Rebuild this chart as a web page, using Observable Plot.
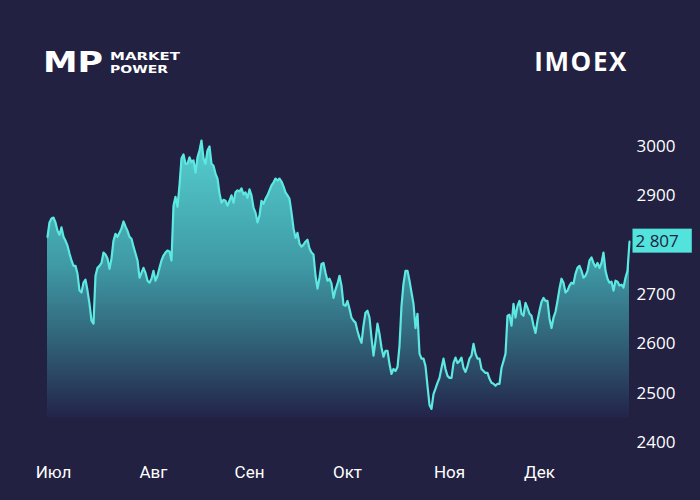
<!DOCTYPE html>
<html>
<head>
<meta charset="utf-8">
<script src="https://cdn.jsdelivr.net/npm/d3@7"></script>
<script src="https://cdn.jsdelivr.net/npm/@observablehq/plot@0.6"></script>
<style>
  html, body { margin: 0; padding: 0; background: #222142; }
  #wrap { position: relative; width: 700px; height: 500px; overflow: hidden; background: #222142; }
  #chart { position: absolute; left: 0; top: 0; }
  #brand { position: absolute; left: 0; top: 0; }
  .ticker { position: absolute; right: 72px; top: 43px; color: #fff; font: 700 26px "Open Sans", sans-serif; letter-spacing: 1.6px; }
</style>
</head>
<body>
<div id="wrap">
  <svg id="brand" width="200" height="100" xmlns="http://www.w3.org/2000/svg">
    <text x="43" y="72" fill="#fff" font-family="DejaVu Sans" font-weight="700" font-size="27.5"
          textLength="60" lengthAdjust="spacingAndGlyphs">MP</text>
    <text x="110" y="59.5" fill="#fff" font-family="DejaVu Sans" font-weight="700" font-size="11"
          textLength="70" lengthAdjust="spacingAndGlyphs">MARKET</text>
    <text x="110" y="73" fill="#fff" font-family="DejaVu Sans" font-weight="700" font-size="11"
          textLength="58" lengthAdjust="spacingAndGlyphs">POWER</text>
  </svg>
  <div class="ticker">IMOEX</div>
  <div id="chart"></div>
</div>
<script>
// IMOEX index, Jul–Dec: one value per sampling step
const values = [
  2817, 2846, 2854, 2856, 2846, 2829, 2821, 2836, 2817, 2809,
  2799, 2783, 2769, 2758, 2758, 2742, 2708, 2704, 2724, 2730,
  2708, 2681, 2647, 2641, 2738, 2754, 2758, 2764, 2785, 2781,
  2773, 2752, 2773, 2809, 2823, 2817, 2825, 2834, 2848, 2838,
  2829, 2817, 2813, 2797, 2783, 2769, 2734, 2744, 2754, 2744,
  2728, 2724, 2732, 2748, 2728, 2738, 2754, 2769, 2779, 2785,
  2789, 2787, 2769, 2880, 2898, 2878, 2921, 2976, 2984, 2965,
  2965, 2978, 2968, 2972, 2947, 2978, 2992, 3012, 2976, 2965,
  2992, 3000, 2965, 2961, 2945, 2935, 2905, 2886, 2892, 2890,
  2880, 2890, 2901, 2886, 2907, 2911, 2909, 2915, 2903, 2907,
  2896, 2913, 2901, 2876, 2866, 2846, 2860, 2890, 2884, 2894,
  2901, 2911, 2921, 2927, 2935, 2931, 2935, 2929, 2919, 2907,
  2901, 2894, 2866, 2834, 2815, 2825, 2803, 2797, 2801, 2807,
  2811, 2793, 2785, 2781, 2738, 2712, 2734, 2762, 2764, 2744,
  2728, 2732, 2722, 2693, 2710, 2722, 2738, 2718, 2679, 2677,
  2687, 2671, 2653, 2647, 2643, 2626, 2612, 2602, 2637, 2663,
  2667, 2653, 2612, 2576, 2606, 2641, 2620, 2592, 2574, 2586,
  2586, 2559, 2539, 2549, 2545, 2553, 2596, 2677, 2722, 2748,
  2748, 2728, 2704, 2681, 2632, 2661, 2580, 2570, 2570, 2555,
  2515, 2476, 2468, 2498, 2509, 2521, 2531, 2551, 2570, 2549,
  2535, 2531, 2531, 2561, 2572, 2561, 2565, 2572, 2551, 2543,
  2555, 2570, 2576, 2600, 2580, 2570, 2570, 2549, 2545, 2541,
  2541, 2529, 2521, 2519, 2515, 2519, 2519, 2551, 2565, 2580,
  2657, 2659, 2637, 2681, 2653, 2677, 2687, 2661, 2657, 2683,
  2673, 2661, 2657, 2637, 2622, 2647, 2667, 2685, 2693, 2687,
  2687, 2651, 2632, 2653, 2665, 2687, 2712, 2732, 2724, 2704,
  2708, 2718, 2724, 2722, 2742, 2754, 2758, 2748, 2734, 2738,
  2748, 2769, 2775, 2764, 2756, 2764, 2754, 2764, 2785, 2748,
  2732, 2724, 2726, 2708, 2728, 2726, 2718, 2720, 2714, 2734,
  2748, 2807
];

// Month labels and the sample index they sit on
const monthTicks = [3, 53, 101, 150, 201, 246];
const monthLabels = ["Июл", "Авг", "Сен", "Окт", "Ноя", "Дек"];

// Price axis ticks (2800 sits under the latest-value badge)
const yTicks = [2400, 2500, 2600, 2700, 2900, 3000];

const data = values.map((v, i) => ({i, v}));
const last = data[data.length - 1];
const spaced = d3.formatLocale({decimal: ",", thousands: " ", grouping: [3]}).format(",d");

const chart = Plot.plot({
  width: 700,
  height: 500,
  marginLeft: 47,
  marginRight: 71,
  marginTop: 146,
  marginBottom: 58,
  style: {background: "transparent", color: "#ffffff", overflow: "visible"},
  x: {domain: [0, values.length - 1]},
  y: {domain: [2400, 3000]},
  marks: [
    Plot.areaY(data, {x: "i", y1: 2450, y2: "v", fill: "url(#imoexFade)"}),
    Plot.lineY(data, {x: "i", y: "v", stroke: "#5de8e1", strokeWidth: 2.2}),
    Plot.axisY({
      anchor: "right", ticks: yTicks, tickSize: 0, tickPadding: 7,
      tickFormat: d => String(d), label: null,
      fontSize: 17, fontFamily: "Open Sans", fill: "#ffffff"
    }),
    Plot.axisX({
      ticks: monthTicks, tickSize: 0, tickPadding: 23,
      tickFormat: d => monthLabels[monthTicks.indexOf(d)], label: null,
      fontSize: 17, fontFamily: "Roboto", fill: "#ffffff"
    }),
    Plot.text([last], {
      x: "i", y: "v", text: d => spaced(d.v), dx: 6, textAnchor: "start",
      fontSize: 17, fontFamily: "Open Sans", fill: "#222142", className: "last-value"
    })
  ]
});

document.getElementById("chart").appendChild(chart);

// Vertical fade under the line
const ns = "http://www.w3.org/2000/svg";
const defs = document.createElementNS(ns, "defs");
const grad = document.createElementNS(ns, "linearGradient");
grad.setAttribute("id", "imoexFade");
grad.setAttribute("gradientUnits", "userSpaceOnUse");
grad.setAttribute("x1", 0); grad.setAttribute("x2", 0);
grad.setAttribute("y1", 140); grad.setAttribute("y2", 418);
[[0, "#55cfcf"], [0.45, "#3f9aa6"], [0.75, "#2f5c73"], [1, "#23234a"]].forEach(([o, c]) => {
  const s = document.createElementNS(ns, "stop");
  s.setAttribute("offset", o);
  s.setAttribute("stop-color", c);
  grad.appendChild(s);
});
defs.appendChild(grad);
chart.insertBefore(defs, chart.firstChild);

// Highlight box behind the latest value, in the label's own coordinates
const label = chart.querySelector(".last-value text");
if (label) {
  const b = label.getBBox();
  const box = document.createElementNS(ns, "rect");
  box.setAttribute("x", b.x - 3);
  box.setAttribute("y", b.y - 0.5);
  box.setAttribute("width", b.width + 16);
  box.setAttribute("height", b.height + 1);
  box.setAttribute("fill", "#52e3dc");
  const t = label.getAttribute("transform");
  if (t) box.setAttribute("transform", t);
  label.parentNode.insertBefore(box, label);
}
</script>
</body>
</html>
